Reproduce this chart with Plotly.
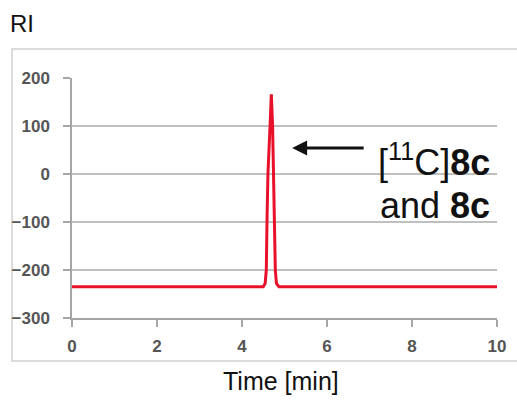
import plotly.graph_objects as go

# Data (RI detector trace)
time_min = [0, 4.50, 4.545, 4.572, 4.588, 4.61, 4.66, 4.69, 4.72, 4.745, 4.77, 4.784, 4.81, 4.87, 10]
ri_signal = [-235, -235, -228, -200, -100, 0, 100, 166, 100, 0, -100, -200, -228, -235, -235]

x_ticks = [0, 2, 4, 6, 8, 10]
y_ticks = [-300, -200, -100, 0, 100, 200]

tick_font = dict(family="Liberation Sans", size=17, color="#555555", weight="bold")

fig = go.Figure()
fig.add_trace(go.Scatter(
    x=time_min, y=ri_signal, mode="lines",
    line=dict(color="#e8112a", width=3),
    showlegend=False, hoverinfo="skip",
))

fig.update_layout(
    width=517, height=401,
    margin=dict(l=72, r=20, t=78, b=83, autoexpand=False),
    paper_bgcolor="white", plot_bgcolor="white",
    xaxis=dict(
        range=[0, 10], tickvals=x_ticks, showgrid=False, zeroline=False, automargin=False,
        showline=True, linecolor="#a6a6a6", linewidth=1.5,
        ticks="outside", ticklen=7, tickcolor="#a6a6a6", tickwidth=1.5,
        tickfont=tick_font, ticklabelstandoff=5,
    ),
    yaxis=dict(
        range=[-300, 200], tickvals=y_ticks, showgrid=True, gridcolor="#c0c0c0", gridwidth=1.5,
        zeroline=False, showline=True, linecolor="#a6a6a6", linewidth=1.5, automargin=False,
        ticks="outside", ticklen=7, tickcolor="#a6a6a6", tickwidth=1.5,
        tickfont=tick_font, ticklabelstandoff=10,
    ),
    shapes=[dict(
        type="rect", xref="paper", yref="paper",
        x0=-0.1412, x1=1.06, y0=-0.179, y1=1.1208,
        line=dict(color="#d0d0d0", width=1.5), fillcolor="rgba(0,0,0,0)", layer="below",
    )],
    annotations=[
        dict(text="RI", xref="paper", yref="paper", x=(8 - 72) / 425, y=(318 - 23.5) / 240,
             xanchor="left", yanchor="middle", showarrow=False,
             font=dict(family="Liberation Sans", size=24, color="#111111")),
        dict(text="Time [min]", xref="paper", yref="paper", x=(281 - 72) / 425, y=(318 - 381) / 240,
             xanchor="center", yanchor="middle", showarrow=False,
             font=dict(family="Liberation Sans", size=25, color="#111111")),
        dict(text="[<sup>11</sup>C]<b>8c</b>", xref="paper", yref="paper",
             x=(492 - 72) / 425, y=(318 - 160) / 240,
             xanchor="right", yanchor="middle", showarrow=False,
             font=dict(family="Liberation Sans", size=36, color="#111111")),
        dict(text="and <b>8c</b>", xref="paper", yref="paper",
             x=(492 - 72) / 425, y=(318 - 205) / 240,
             xanchor="right", yanchor="middle", showarrow=False,
             font=dict(family="Liberation Sans", size=36, color="#111111")),
        dict(text="", x=5.18, y=54, xref="x", yref="y", ax=73, ay=0,
             showarrow=True, arrowhead=2, arrowsize=1, arrowwidth=3, arrowcolor="#111111"),
    ],
)

fig.write_html("out.html")
